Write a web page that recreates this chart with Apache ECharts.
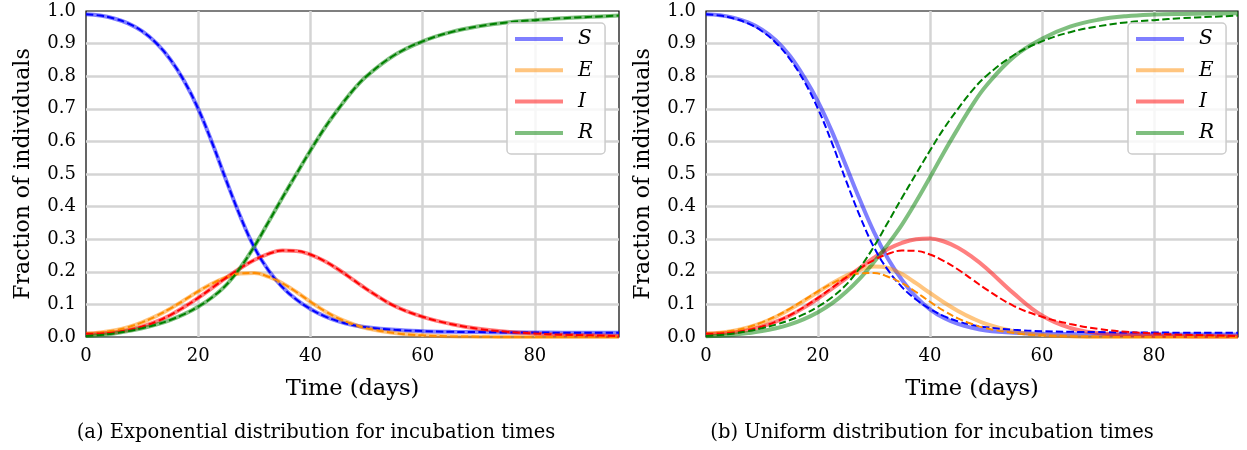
<!DOCTYPE html>
<html>
<head>
<meta charset="utf-8">
<script src="https://cdn.jsdelivr.net/npm/echarts@6/dist/echarts.min.js"></script>
<style>
html,body{margin:0;padding:0;background:#fff;}
#chart{width:1247px;height:450px;}
</style>
</head>
<body>
<div id="chart"></div>
<script>
// Time samples (days)
const T = [0,2.5,5,7.5,10,12.5,15,17.5,20,22.5,25,27.5,30,32.5,35,37.5,40,42.5,45,47.5,50,55,60,65,70,75,80,85,90,95];

// Exponential-incubation model (dashed in both panels, solid in panel a)
const S_exp = [0.99,0.986,0.977,0.962,0.938,0.902,0.852,0.785,0.70,0.595,0.48,0.37,0.275,0.205,0.153,0.115,0.086,0.064,0.048,0.037,0.03,0.022,0.018,0.016,0.015,0.014,0.014,0.013,0.013,0.013];
const E_exp = [0.01,0.014,0.02,0.03,0.045,0.064,0.087,0.113,0.14,0.164,0.183,0.195,0.196,0.185,0.165,0.138,0.108,0.08,0.057,0.04,0.027,0.012,0.005,0.002,0.001,0,0,0,0,0];
const I_exp = [0.01,0.011,0.014,0.021,0.032,0.047,0.067,0.092,0.12,0.151,0.182,0.211,0.236,0.255,0.265,0.264,0.253,0.233,0.207,0.177,0.147,0.095,0.062,0.04,0.025,0.016,0.011,0.007,0.005,0.003];
const R_exp = [0.003,0.006,0.011,0.018,0.027,0.038,0.052,0.07,0.093,0.122,0.16,0.213,0.278,0.352,0.427,0.50,0.572,0.64,0.70,0.755,0.80,0.865,0.907,0.935,0.953,0.965,0.972,0.978,0.982,0.986];

// Uniform-incubation simulation (solid in panel b)
const S_uni = [0.99,0.987,0.979,0.965,0.943,0.91,0.862,0.798,0.722,0.63,0.525,0.42,0.322,0.24,0.175,0.123,0.085,0.058,0.04,0.028,0.02,0.013,0.01,0.009,0.008,0.008,0.008,0.008,0.008,0.008];
const E_uni = [0.01,0.013,0.019,0.029,0.043,0.062,0.085,0.111,0.138,0.165,0.188,0.206,0.216,0.212,0.193,0.165,0.135,0.106,0.08,0.058,0.04,0.017,0.006,0.002,0,0,0,0,0,0];
const I_uni = [0.01,0.011,0.014,0.021,0.032,0.047,0.066,0.09,0.118,0.148,0.18,0.212,0.243,0.27,0.289,0.30,0.302,0.293,0.274,0.246,0.212,0.133,0.066,0.028,0.012,0.006,0.004,0.003,0.002,0.002];
const R_uni = [0.002,0.004,0.007,0.012,0.018,0.027,0.039,0.055,0.076,0.103,0.138,0.18,0.23,0.285,0.345,0.415,0.49,0.567,0.64,0.71,0.77,0.86,0.915,0.952,0.973,0.984,0.989,0.991,0.992,0.993];

const NAMES = ['S','E','I','R'];
const X_TICKS = [0,20,40,60,80];
const CAPTIONS = ['(a) Exponential distribution for incubation times','(b) Uniform distribution for incubation times'];
const X_LABEL = 'Time (days)';
const Y_LABEL = 'Fraction of individuals';

const SOLID = ['rgba(0,0,255,0.5)','rgba(255,140,0,0.5)','rgba(255,0,0,0.5)','rgba(0,128,0,0.5)'];
const DASH = ['#0000ff','#ff8c00','#ff0000','#008000'];
const FONT = 'DejaVu Serif';

const pairs = arr => T.map((t,i)=>[t,arr[i]]);

const panels = [
  {solid:[S_exp,E_exp,I_exp,R_exp], dashed:[S_exp,E_exp,I_exp,R_exp], left:86, width:533, legendLeft:507, cap:316},
  {solid:[S_uni,E_uni,I_uni,R_uni], dashed:[S_exp,E_exp,I_exp,R_exp], left:706, width:532, legendLeft:1128, cap:932}
];

const grid=[], xAxis=[], yAxis=[], series=[], legend=[], graphic=[];
panels.forEach((p,k)=>{
  grid.push({left:p.left, top:11, width:p.width, height:326, show:true, borderColor:'#000', borderWidth:1.2, backgroundColor:'transparent', containLabel:false});
  xAxis.push({type:'value', gridIndex:k, min:0, max:95, interval:20,
    name:X_LABEL, nameLocation:'middle', nameGap:41,
    nameTextStyle:{fontFamily:FONT, fontSize:22.5, color:'#000'},
    axisLine:{show:false}, axisTick:{show:false},
    axisLabel:{fontFamily:FONT, fontSize:18, color:'#000', margin:10, showMaxLabel:false,
      formatter:v=>X_TICKS.includes(v)?String(v):''},
    splitLine:{show:true, showMinLine:false, showMaxLine:false, lineStyle:{color:'#d4d4d4', width:2.5}}
  });
  yAxis.push({type:'value', gridIndex:k, min:0, max:1, interval:0.1,
    name:Y_LABEL, nameLocation:'middle', nameGap:52,
    nameTextStyle:{fontFamily:FONT, fontSize:22, color:'#000'},
    axisLine:{show:false}, axisTick:{show:false},
    axisLabel:{fontFamily:FONT, fontSize:18, color:'#000', margin:10, formatter:v=>v.toFixed(1)},
    splitLine:{show:true, showMinLine:false, showMaxLine:false, lineStyle:{color:'#d4d4d4', width:2.5}}
  });
  NAMES.forEach((n,j)=>{
    series.push({type:'line', name:n, xAxisIndex:k, yAxisIndex:k, data:pairs(p.solid[j]),
      showSymbol:false, smooth:0.4, color:SOLID[j], lineStyle:{width:4, color:SOLID[j]}, z:2});
  });
  NAMES.forEach((n,j)=>{
    series.push({type:'line', name:n+'_model', xAxisIndex:k, yAxisIndex:k, data:pairs(p.dashed[j]),
      showSymbol:false, smooth:0.4, color:DASH[j], lineStyle:{width:2, color:DASH[j], type:[7.4,3.2]}, z:3});
  });
  legend.push({orient:'vertical', left:p.legendLeft, top:23, data:NAMES, icon:'rect', itemWidth:48, itemHeight:4,
    itemGap:11.3, padding:[6,12,11,8], backgroundColor:'rgba(255,255,255,0.8)', borderColor:'#cccccc', borderWidth:1.5, borderRadius:4,
    textStyle:{fontFamily:FONT, fontStyle:'italic', fontSize:20, lineHeight:20, color:'#000', padding:[0,0,0,10]},
    selectedMode:false});
  graphic.push({type:'text', x:p.cap, y:433, style:{text:CAPTIONS[k], font:'19.5px "DejaVu Serif"', fill:'#000', textAlign:'center', textVerticalAlign:'middle'}});
});

const option = {
  animation:false,
  backgroundColor:'#fff',
  grid, xAxis, yAxis, series, legend, graphic
};
const chart = echarts.init(document.getElementById('chart'), null, {renderer:'canvas'});
chart.setOption(option);
</script>
</body>
</html>
